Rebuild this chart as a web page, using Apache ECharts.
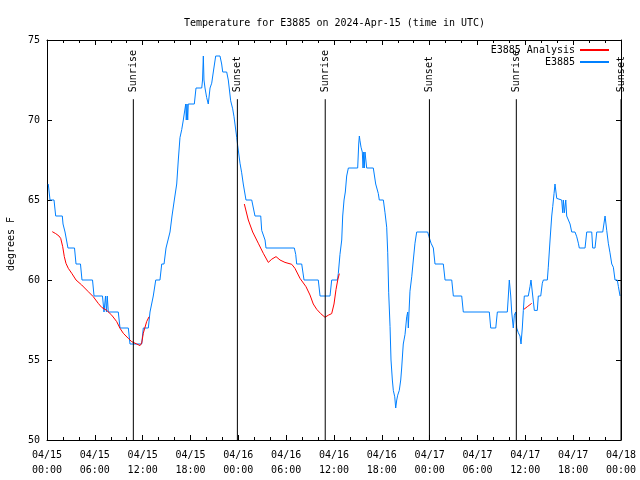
<!DOCTYPE html>
<html><head><meta charset="utf-8">
<script src="https://cdn.jsdelivr.net/npm/echarts@6/dist/echarts.min.js"></script>
<style>html,body{margin:0;padding:0;background:#fff}#c{width:640px;height:480px}</style>
</head><body><div id="c"></div>
<script>
var FONT = 'DejaVu Sans Mono';
var tickLabels = ['04/15\n00:00','04/15\n06:00','04/15\n12:00','04/15\n18:00','04/16\n00:00','04/16\n06:00','04/16\n12:00','04/16\n18:00','04/17\n00:00','04/17\n06:00','04/17\n12:00','04/17\n18:00','04/18\n00:00'];
// hours since 2024-04-15 00:00 UTC
var blueHours = [
0.16,0.31,0.38,0.88,1.09,1.92,2.01,2.26,2.51,2.63,
3.45,3.64,4.20,4.39,5.71,5.90,6.96,7.15,7.34,7.46,
7.56,7.69,8.94,9.16,10.20,10.41,11.88,12.08,12.71,12.92,
13.17,13.33,13.64,14.17,14.39,14.68,14.93,15.18,15.43,15.68,
15.97,16.27,16.47,16.68,16.90,17.10,17.40,17.47,17.56,17.65,
17.72,17.94,18.48,18.69,19.41,19.51,19.61,19.69,19.82,20.03,
20.23,20.45,20.66,20.86,21.16,21.70,21.91,22.04,22.54,22.74,
23.04,23.29,23.46,23.80,23.92,24.21,24.42,24.62,24.96,25.68,
25.88,26.09,26.81,26.93,27.13,27.35,27.47,31.02,31.20,31.32,
31.95,32.24,34.03,34.25,35.50,35.71,36.42,36.54,36.75,36.97,
37.09,37.26,37.42,37.59,37.80,38.97,39.10,39.18,39.26,39.39,
39.55,39.64,39.73,39.80,39.89,40.10,40.93,41.23,41.56,41.68,
42.19,42.40,42.61,42.74,42.86,43.03,43.15,43.32,43.44,43.62,
43.74,43.87,43.99,44.19,44.37,44.49,44.62,44.69,44.91,45.12,
45.25,45.32,45.41,45.53,45.75,45.95,46.16,46.37,47.75,47.92,
48.17,48.46,48.67,49.71,49.93,50.77,50.97,52.02,52.22,55.48,
55.66,56.29,56.49,57.74,57.87,57.99,58.17,58.29,58.49,58.62,
58.79,58.92,59.12,59.33,59.46,59.62,59.75,59.87,60.37,60.59,
60.71,60.93,61.13,61.30,61.50,61.63,61.93,62.13,62.26,62.76,
62.88,63.10,63.31,63.44,63.60,63.72,63.94,64.06,64.56,64.69,
64.77,64.89,65.07,65.19,65.39,65.61,65.82,66.23,66.45,66.65,
66.77,67.49,67.70,68.33,68.45,68.74,68.96,69.71,70.00,70.21,
70.41,70.62,70.84,71.04,71.25,71.54,71.67,71.88];
var blueTemps = [
66,66,65,65,64,64,63.5,63,63,62,
62,61,61,60,60,59,59,58,59,58,
59,58,58,57,57,56,56,57,57,58,
58,59,60,60,61,61,62,62,63,64,
65,66,67.5,68.9,69.4,70,71,70,71,70,
71,71,71,72,72,72.5,74,72.5,72,71.4,
71,72,72.3,73,74,74,73.5,73,73,72.5,
71.2,70.7,70.2,68.9,68.4,67.3,66.7,66,65,65,
64.9,64,64,63.1,63,62.5,62,62,61.6,61,
61,60,60,59,59,60,60,60.4,61.6,62.5,
64,65,65.5,66.5,67,67,68.5,69,68.7,68.3,
68,67,68,67,68,67,67,66,65.4,65,
65,64.2,63.3,61.7,59.2,57.1,55,53.75,53.1,52.7,
52,52.5,52.8,53.1,53.75,54.5,55.5,56,56.6,57.7,
58,57,58,59.3,60.2,61.25,62.3,63,63,62.7,
62.3,62,61,61,60,60,59,59,58,58,
57,57,58,58,59,60,59,58,57,57.8,
58,57,56.7,56.5,56,57,58.1,59,59,59.6,
60,59,58.1,58,58.1,59,59,59.8,60,60,
60.8,62.5,64,64.6,65.4,66,65.1,65,65,64.2,
65,64.2,65,64,64,63.5,63,63,62.7,62.3,
62,62,63,63,62,62,63,63,64,63.1,
62.3,61.7,61,60.8,60,60,59.6,59];
var redHours = [0.66,1.09,1.5,1.72,1.97,2.17,2.38,2.67,3.1,3.64,4.35,5.18,5.8,6.43,6.86,7.49,8.12,8.74,9.16,9.57,10.2,10.62,11.25,11.67,11.88,12.08,12.5,12.8,
18,
24.75,25.25,25.8,26.5,27.13,27.76,28.19,28.73,29.23,29.85,30.7,31.1,31.74,32.49,32.99,33.4,33.83,34.33,34.87,35.29,35.71,36.0,36.25,36.47,36.67,
48,
59.83,60.3,60.8];
var redTemps = [63.02,62.9,62.75,62.6,62.08,61.46,61.04,60.73,60.42,60.0,59.69,59.27,58.96,58.54,58.29,58.1,57.8,57.4,56.98,56.67,56.35,56.15,56.0,55.9,56.06,56.67,57.4,57.7,
null,
64.75,63.75,63.0,62.3,61.67,61.1,61.3,61.46,61.25,61.1,60.98,60.73,60.1,59.58,59.06,58.5,58.17,57.9,57.67,57.8,57.9,58.5,59.4,60.0,60.4,
null,
58.17,58.35,58.54];
var sunHours = [10.83, 23.88, 34.9, 47.97, 58.87, 72.0];
var sunNames = ['Sunrise','Sunset','Sunrise','Sunset','Sunrise','Sunset'];
var sunLineTop = 71.3;

var blueData = blueHours.map(function(h,i){return [h, blueTemps[i]];});
var redData = redHours.map(function(h,i){return [h, redTemps[i] == null ? '-' : redTemps[i]];});
var sunData = sunHours.map(function(h,i){return [h, sunNames[i]];});

var chart = echarts.init(document.getElementById('c'));
var axisCommon = {
  type: 'value', min: 0, max: 72, interval: 6,
  axisLine: {show: true, onZero: false, lineStyle: {color: '#000', width: 1}},
  axisTick: {show: true, inside: true, length: 5, lineStyle: {color: '#000'}},
  minorTick: {show: true, splitNumber: 3, length: 3, lineStyle: {color: '#000'}},
  splitLine: {show: false}
};
chart.setOption({
  animation: false,
  backgroundColor: '#fff',
  title: {text: 'Temperature for E3885 on 2024-Apr-15 (time in UTC)', left: 179, top: 13,
    textStyle: {fontFamily: FONT, fontSize: 10, fontWeight: 'normal', color: '#000'}},
  legend: {right: 30, top: 45, padding: 0, orient: 'vertical', align: 'right', itemWidth: 29, itemHeight: 10, itemGap: 2,
    data: ['E3885 Analysis', 'E3885'],
    itemStyle: {opacity: 0},
    textStyle: {fontFamily: FONT, fontSize: 10, color: '#000'}},
  grid: {left: 47, right: 19, top: 40, bottom: 40, containLabel: false, outerBoundsMode: 'none'},
  xAxis: [
    Object.assign({}, axisCommon, {position: 'bottom',
      axisLabel: {show: true, margin: 8, fontFamily: FONT, fontSize: 10, color: '#000', lineHeight: 15,
        formatter: function(v){return tickLabels[Math.round(v/6)];}}}),
    Object.assign({}, axisCommon, {position: 'top', axisLabel: {show: false}})
  ],
  yAxis: [
    {type: 'value', min: 50, max: 75, interval: 5, position: 'left',
     name: 'degrees F', nameLocation: 'middle', nameGap: 31, nameRotate: 90,
     nameTextStyle: {fontFamily: FONT, fontSize: 10, color: '#000', padding: [0, 8, 0, 0]},
     axisLine: {show: true, onZero: false, lineStyle: {color: '#000', width: 1}},
     axisTick: {show: true, inside: true, length: 5, lineStyle: {color: '#000'}},
     axisLabel: {margin: 7, fontFamily: FONT, fontSize: 10, color: '#000'},
     splitLine: {show: false}},
    {type: 'value', min: 50, max: 75, interval: 5, position: 'right',
     axisLine: {show: true, onZero: false, lineStyle: {color: '#000', width: 1}},
     axisTick: {show: true, inside: true, length: 5, lineStyle: {color: '#000'}},
     axisLabel: {show: false}, splitLine: {show: false}}
  ],
  series: [
    {name: 'E3885 Analysis', type: 'line', data: redData, symbol: 'none', connectNulls: false,
     lineStyle: {color: '#ff0000', width: 1}, itemStyle: {color: '#ff0000'}, z: 3},
    {name: 'E3885', type: 'line', data: blueData, symbol: 'none',
     lineStyle: {color: '#0080ff', width: 1}, itemStyle: {color: '#0080ff'}, z: 2},
    {name: 'sun', type: 'custom', data: sunData, z: 4,
     renderItem: function(params, api){
       var t = api.value(0);
       var top = api.coord([t, sunLineTop]);
       var bot = api.coord([t, 50]);
       return {type: 'group', children: [
         {type: 'line', shape: {x1: top[0], y1: top[1], x2: bot[0], y2: bot[1]},
          style: {stroke: '#000', lineWidth: 1}},
         {type: 'text', x: top[0], y: top[1] - 7, rotation: Math.PI/2,
          style: {text: sunNames[params.dataIndex], font: '10px ' + FONT, fill: '#000',
                  align: 'left', verticalAlign: 'middle'}}
       ]};
     }}
  ]
});
</script></body></html>
